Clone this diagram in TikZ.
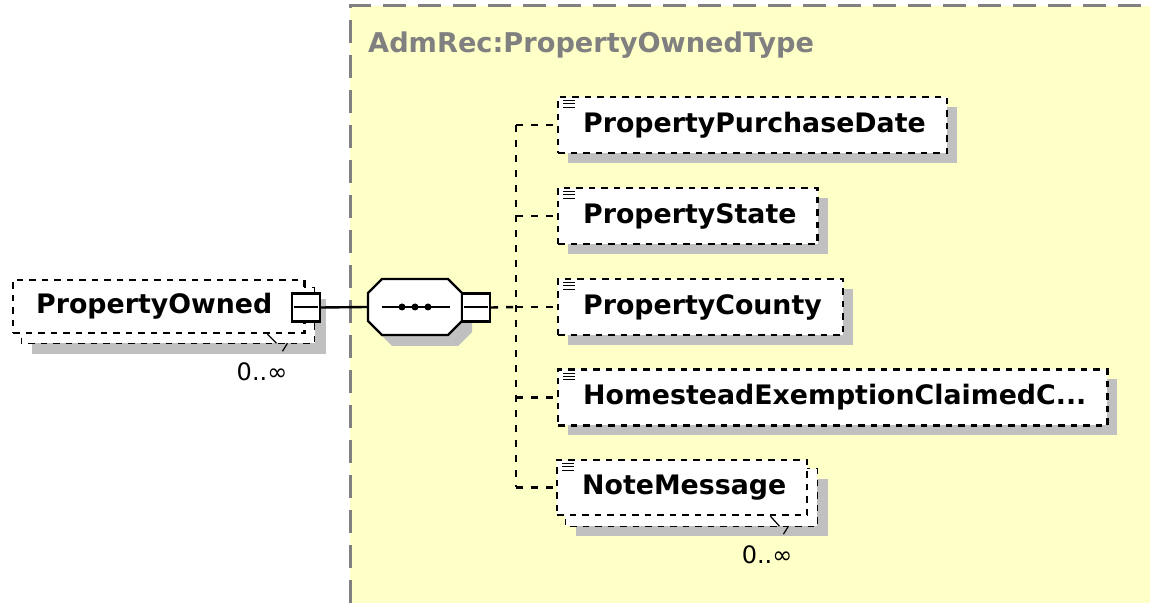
\documentclass[tikz,border=0pt]{standalone}
\usepackage{fontspec}
\setsansfont{DejaVu Sans}
\usetikzlibrary{shadows,backgrounds}

\definecolor{typefill}{RGB}{255,255,200}
\definecolor{typeline}{RGB}{128,128,128}
\definecolor{shadowgray}{RGB}{192,192,192}

\begin{document}
\begin{tikzpicture}[x=0.5pt,y=-0.5pt,line width=1.2pt,
    every node/.style={font=\sffamily\fontsize{13}{15}\selectfont},
    dashln/.style={dash pattern=on 3.25pt off 3pt},
    linkln/.style={dash pattern=on 3.5pt off 4pt},
    elem/.style={draw,dashln,fill=white,anchor=west,minimum height=28pt,inner xsep=10.5pt,inner ysep=0pt,
      font=\sffamily\bfseries\fontsize{13.4}{15}\selectfont,execute at begin node=\hspace*{2pt}},
    single/.style={elem,drop shadow={opacity=1,fill=shadowgray,shadow xshift=5pt,shadow yshift=-5pt}},
    minusbox/.style={draw,solid,fill=white,minimum size=14pt,inner sep=0pt},
    card/.style={font=\sffamily\fontsize{12}{14}\selectfont,inner sep=0pt}]
  \useasboundingbox (0,0) rectangle (1150,603);

  % complex type frame
  \begin{scope}[on background layer]
    \fill[typefill] (350,6) rectangle (1150,603);
    \draw[typeline,line width=1.5pt,dash pattern=on 11.5pt off 6pt] (350,603) -- (350,6) -- (1150,6);
  \end{scope}
  \node[anchor=base west,inner sep=0pt,text=typeline,font=\sffamily\bfseries\fontsize{13.6}{15}\selectfont] (typename) at (367,53) {AdmRec:PropertyOwnedType};

  % root element (0..unbounded)
  \node[elem,minimum height=26.5pt,inner xsep=9.5pt,execute at end node=\hspace*{6.5pt}] (owned) at (12,306.5) {PropertyOwned};
  \begin{scope}[on background layer]
    \fill[shadowgray] ([shift={(20,20)}]owned.north west) rectangle ([shift={(20,20)}]owned.south east);
    \draw[dashln,fill=white] ([shift={(9,9)}]owned.north west) rectangle ([shift={(9,9)}]owned.south east);
  \end{scope}
  \draw[line width=0.6pt] ([shift={(-38,0)}]owned.south east) -- ++(9,9);
  \draw[line width=0.6pt] ([shift={(-18,9)}]owned.south east) -- ++(-5,8);
  \node[card] (owned-card) at (262,372) {0..∞};
  \node[minusbox] (owned-min) at (306,307.5) {};
  \draw[line width=1pt] ([xshift=1.5pt]owned-min.west) -- ([xshift=-1.5pt]owned-min.east);

  % sequence compositor
  \fill[shadowgray,shift={(10,11)}] (368,293) -- (382,279) -- (448,279) -- (462,293) -- (462,321) -- (448,335) -- (382,335) -- (368,321) -- cycle;
  \draw[fill=white] (368,293) -- (382,279) -- (448,279) -- (462,293) -- (462,321) -- (448,335) -- (382,335) -- (368,321) -- cycle;
  \node[minimum width=47pt,minimum height=28pt,inner sep=0pt] (seq) at (415,307) {};
  \draw (382,307) -- (450,307);
  \foreach \x in {402,415,428}
    \fill (\x,307) circle (1.75pt);
  \node[minusbox] (seq-min) at (476,307.5) {};
  \draw[line width=1pt] ([xshift=1.5pt]seq-min.west) -- ([xshift=-1.5pt]seq-min.east);
  \draw (owned-min.east) -- (seq.west);

  % child elements
  \node[single] (c1) at (557,125) {PropertyPurchaseDate};
  \node[single] (c2) at (557,216) {PropertyState};
  \node[single] (c3) at (557,307) {PropertyCounty};
  \node[single] (c4) at (557,397.5) {HomesteadExemptionClaimedC...};
  \node[elem,minimum height=27.5pt] (c5) at (556,487.5) {NoteMessage};
  \begin{scope}[on background layer]
    \fill[shadowgray] ([shift={(20,20)}]c5.north west) rectangle ([shift={(20,20)}]c5.south east);
    \draw[dashln,fill=white] ([shift={(9,10)}]c5.north west) rectangle ([shift={(9,10)}]c5.south east);
  \end{scope}
  \draw[line width=0.6pt] ([shift={(-38,0)}]c5.south east) -- ++(9,10);
  \draw[line width=0.6pt] ([shift={(-20,10)}]c5.south east) -- ++(-5,8);
  \node[card] (note-card) at (767,555) {0..∞};

  % simple type marks
  \foreach \i in {1,...,5}
    \foreach \d in {5,8,11.5}
      \draw[line width=0.7pt] ([shift={(6,\d)}]c\i.north west) -- ++(12,0);

  % connectors
  \coordinate (trunk) at (516,307);
  \draw[linkln] (seq-min.east) -- (trunk);
  \draw[linkln] (trunk |- c1.west) -- (trunk |- c5.west);
  \foreach \i in {1,...,5}
    \draw[linkln] (trunk |- c\i.west) -- (c\i.west);
\end{tikzpicture}
\end{document}
